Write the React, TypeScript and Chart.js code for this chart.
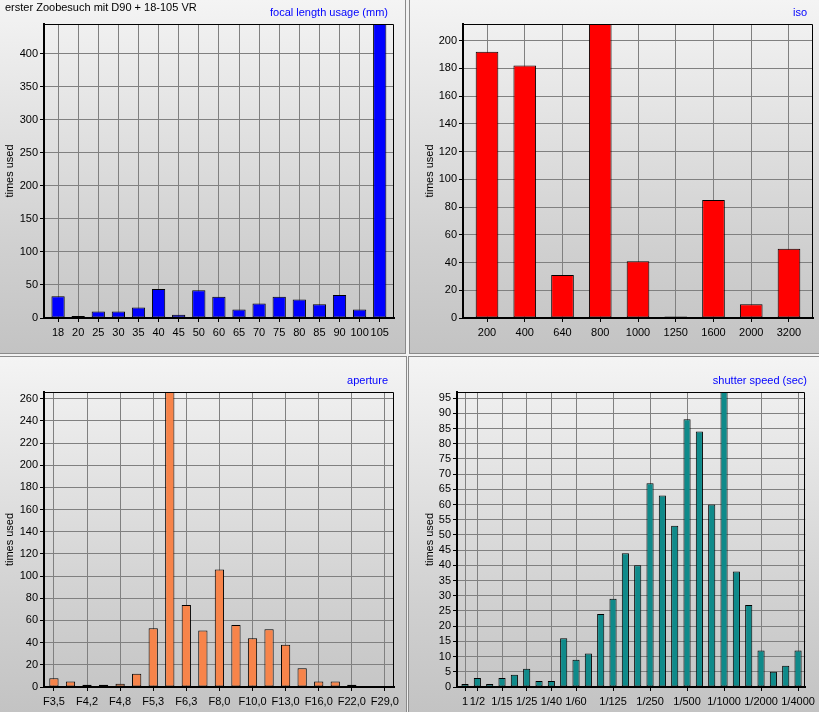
import React, { useEffect, useRef } from 'react';
import { Chart, registerables } from 'chart.js';

Chart.register(...registerables);

// ---------- data ----------
const mainTitle = 'erster Zoobesuch mit D90 + 18-105 VR';
const yAxisTitle = 'times used';

const focalTitle = 'focal length usage (mm)';
const focalLabels = ['18', '20', '25', '30', '35', '40', '45', '50', '60', '65', '70', '75', '80', '85', '90', '100', '105'];
const focalValues = [33, 3, 10, 10, 16, 44, 5, 42, 32, 13, 22, 32, 28, 21, 35, 13, 445];
const focalTickIndex = [0, 1, 2, 3, 4, 5, 6, 7, 8, 9, 10, 11, 12, 13, 14, 15, 16];

const isoTitle = 'iso';
const isoLabels = ['200', '400', '640', '800', '1000', '1250', '1600', '2000', '3200'];
const isoValues = [192, 182, 31, 212, 41, 1, 85, 10, 50];
const isoTickIndex = [0, 1, 2, 3, 4, 5, 6, 7, 8];

const apertureTitle = 'aperture';
const apertureLabels = ['F3,5', 'F3,8', 'F4,2', 'F4,5', 'F4,8', 'F5,0', 'F5,3', 'F5,6', 'F6,3', 'F7,1', 'F8,0', 'F9,0', 'F10,0', 'F11,0', 'F13,0', 'F14,0', 'F16,0', 'F18,0', 'F22,0', 'F25,0', 'F29,0'];
const apertureValues = [8, 5, 2, 2, 3, 12, 53, 266, 74, 51, 106, 56, 44, 52, 38, 17, 5, 5, 2, 0, 0];
const apertureTickIndex = [0, 2, 4, 6, 8, 10, 12, 14, 16, 18, 20];

const shutterTitle = 'shutter speed (sec)';
const shutterLabels = ['1', '1/2', '1/10', '1/15', '1/20', '1/25', '1/30', '1/40', '1/50', '1/60', '1/80', '1/100', '1/125', '1/160', '1/200', '1/250', '1/320', '1/400', '1/500', '1/640', '1/800', '1/1000', '1/1250', '1/1600', '1/2000', '1/2500', '1/3200', '1/4000'];
const shutterValues = [1, 3, 1, 3, 4, 6, 2, 2, 16, 9, 11, 24, 29, 44, 40, 67, 63, 53, 88, 84, 60, 97, 38, 27, 12, 5, 7, 12];
const shutterTickIndex = [0, 1, 3, 5, 7, 9, 12, 15, 18, 21, 24, 27];

// ---------- styling ----------
const FONT = "'Liberation Sans', Arial, sans-serif";
const GRID = '#808080';

type Spec = {
  title: string;
  labels: string[];
  values: number[];
  tickIndex: number[];
  color: string;
  yStep: number;
  box: { left: number; top: number; w: number; h: number; bl: number; br: number; bt: number; bb: number };
  plot: { l: number; t: number; r: number; b: number };
  padL: number;
  padR: number;
  barPct: number;
  titleRight: number;
  titleY: number;
  yTitleX: number;
  main?: boolean;
};

const specs: Spec[] = [
  {
    title: focalTitle, labels: focalLabels, values: focalValues, tickIndex: focalTickIndex, color: '#0000ff', yStep: 50,
    box: { left: 0, top: 0, w: 405, h: 353, bl: 0, br: 1, bt: 0, bb: 1 },
    plot: { l: 44, t: 24, r: 394, b: 318 }, padL: 0.7, padR: 0.71, barPct: 0.66,
    titleRight: 388, titleY: 12.5, yTitleX: 10, main: true,
  },
  {
    title: isoTitle, labels: isoLabels, values: isoValues, tickIndex: isoTickIndex, color: '#ff0000', yStep: 20,
    box: { left: 409, top: 0, w: 409, h: 353, bl: 1, br: 0, bt: 0, bb: 1 },
    plot: { l: 53, t: 24, r: 403, b: 318 }, padL: 0.636, padR: 0.636, barPct: 0.6,
    titleRight: 397, titleY: 12.5, yTitleX: 20,
  },
  {
    title: apertureTitle, labels: apertureLabels, values: apertureValues, tickIndex: apertureTickIndex, color: '#f7844a', yStep: 20,
    box: { left: 0, top: 356, w: 406, h: 355, bl: 0, br: 1, bt: 1, bb: 0 },
    plot: { l: 44, t: 35, r: 394, b: 330 }, padL: 0.6, padR: 0.55, barPct: 0.56,
    titleRight: 388, titleY: 23.5, yTitleX: 10,
  },
  {
    title: shutterTitle, labels: shutterLabels, values: shutterValues, tickIndex: shutterTickIndex, color: '#0f8a8a', yStep: 5,
    box: { left: 408, top: 356, w: 410, h: 355, bl: 1, br: 0, bt: 1, bb: 0 },
    plot: { l: 48, t: 35, r: 404, b: 330 }, padL: 0.65, padR: 0.58, barPct: 0.58,
    titleRight: 398, titleY: 23.5, yTitleX: 21,
  },
];

const framePlugin = {
  id: 'frame',
  afterDatasetsDraw(chart: any) {
    const { ctx, chartArea } = chart;
    const { left, top, right, bottom } = chartArea;
    ctx.save();
    ctx.strokeStyle = '#000';
    ctx.lineWidth = 1;
    ctx.beginPath();
    ctx.moveTo(left, Math.round(top) + 0.5);
    ctx.lineTo(Math.round(right) - 0.5, Math.round(top) + 0.5);
    ctx.lineTo(Math.round(right) - 0.5, bottom);
    ctx.stroke();
    ctx.lineWidth = 2;
    ctx.beginPath();
    ctx.moveTo(Math.round(left), top);
    ctx.lineTo(Math.round(left), Math.round(bottom));
    ctx.lineTo(right, Math.round(bottom));
    ctx.stroke();
    ctx.restore();
  },
  afterDraw(chart: any, _args: any, opts: any) {
    const { ctx } = chart;
    ctx.save();
    ctx.font = `11px ${FONT}`;
    ctx.textBaseline = 'middle';
    (opts.texts || []).forEach((t: any) => {
      ctx.fillStyle = t.color;
      ctx.textAlign = t.align;
      ctx.fillText(t.text, t.x, t.y);
    });
    ctx.restore();
  },
};

function buildConfig(s: Spec): any {
  const maxVal = Math.max(...s.values);
  const texts: any[] = [{ text: s.title, x: s.titleRight, y: s.titleY, color: '#0000ff', align: 'right' }];
  if (s.main) texts.push({ text: mainTitle, x: 5, y: 8, color: '#000000', align: 'left' });
  const tickFont = { family: FONT, size: 11 };
  return {
    type: 'bar',
    data: {
      datasets: [
        {
          data: s.values.map((v, i) => ({ x: i, y: v })),
          backgroundColor: s.color,
          borderColor: '#000000',
          borderWidth: 1,
          borderSkipped: false,
          categoryPercentage: 1,
          barPercentage: s.barPct,
        },
      ],
    },
    options: {
      animation: false,
      responsive: false,
      maintainAspectRatio: false,
      devicePixelRatio: 1,
      layout: { padding: { left: 0, top: s.plot.t, right: s.box.w - s.plot.r, bottom: 0 } },
      plugins: {
        legend: { display: false },
        tooltip: { enabled: false },
        title: { display: false },
        frame: { texts },
      },
      scales: {
        x: {
          type: 'linear',
          bounds: 'data',
          offset: false,
          min: -s.padL,
          max: s.values.length - 1 + s.padR,
          afterBuildTicks: (scale: any) => {
            scale.ticks = s.tickIndex.map((v) => ({ value: v }));
          },
          afterFit: (scale: any) => {
            scale.height = s.box.h - s.plot.b;
          },
          ticks: {
            autoSkip: false,
            maxRotation: 0,
            minRotation: 0,
            color: '#000',
            font: tickFont,
            padding: 4,
            callback: (v: number) => s.labels[v] ?? '',
          },
          grid: { color: GRID, lineWidth: 1, offset: false, tickLength: 4, tickColor: '#000' },
          border: { display: true, color: '#000', width: 2 },
        },
        y: {
          type: 'linear',
          bounds: 'data',
          min: 0,
          max: maxVal,
          afterBuildTicks: (scale: any) => {
            const t: any[] = [];
            for (let v = 0; v <= maxVal; v += s.yStep) t.push({ value: v });
            scale.ticks = t;
          },
          afterFit: (scale: any) => {
            scale.width = s.plot.l;
          },
          ticks: { color: '#000', font: tickFont, padding: 2, autoSkip: false },
          grid: { color: GRID, lineWidth: 1, tickLength: 4, tickColor: '#000' },
          border: { display: true, color: '#000', width: 2 },
          title: {
            display: true,
            text: yAxisTitle,
            color: '#000',
            font: { family: FONT, size: 11 },
            padding: { top: s.yTitleX - 6.6, bottom: 0 },
          },
        },
      },
    },
    plugins: [framePlugin],
  };
}

function Panel({ spec }: { spec: Spec }) {
  const ref = useRef<HTMLCanvasElement>(null);
  useEffect(() => {
    const chart = new Chart(ref.current as HTMLCanvasElement, buildConfig(spec));
    return () => chart.destroy();
  }, [spec]);
  const b = spec.box;
  return (
    <div
      style={{
        position: 'absolute',
        left: b.left,
        top: b.top,
        width: b.w,
        height: b.h,
        background: 'linear-gradient(to bottom, #f4f4f4 0%, #e2e2e2 35%, #d0d0d0 70%, #c3c3c3 100%)',
        borderLeft: b.bl ? '1px solid #8a8a8a' : 'none',
        borderRight: b.br ? '1px solid #8a8a8a' : 'none',
        borderTop: b.bt ? '1px solid #8a8a8a' : 'none',
        borderBottom: b.bb ? '1px solid #8a8a8a' : 'none',
      }}
    >
      <canvas ref={ref} width={b.w} height={b.h} style={{ display: 'block', width: b.w, height: b.h }} />
    </div>
  );
}

export default function App() {
  useEffect(() => {
    document.body.style.margin = '0';
  }, []);
  return (
    <div style={{ position: 'relative', width: 819, height: 712, background: '#f2f2f2', overflow: 'hidden' }}>
      {specs.map((s, i) => (
        <Panel key={i} spec={s} />
      ))}
    </div>
  );
}
